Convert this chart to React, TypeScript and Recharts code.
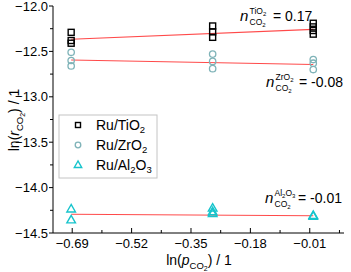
import React from 'react';
import { ComposedChart, Scatter, Line, XAxis, YAxis } from 'recharts';

// ---- data ----
const lnP = [-0.693, -0.288, 0];
const tiO2Points = [
  { x: lnP[0], y: -12.29 }, { x: lnP[0], y: -12.38 }, { x: lnP[0], y: -12.41 },
  { x: lnP[1], y: -12.22 }, { x: lnP[1], y: -12.285 }, { x: lnP[1], y: -12.345 },
  { x: lnP[2], y: -12.19 }, { x: lnP[2], y: -12.23 }, { x: lnP[2], y: -12.27 }, { x: lnP[2], y: -12.31 },
];
const zrO2Points = [
  { x: lnP[0], y: -12.51 }, { x: lnP[0], y: -12.6 }, { x: lnP[0], y: -12.66 },
  { x: lnP[1], y: -12.53 }, { x: lnP[1], y: -12.61 }, { x: lnP[1], y: -12.69 },
  { x: lnP[2], y: -12.59 }, { x: lnP[2], y: -12.63 }, { x: lnP[2], y: -12.7 },
];
const al2O3Points = [
  { x: lnP[0], y: -14.23 }, { x: lnP[0], y: -14.35 },
  { x: lnP[1], y: -14.22 }, { x: lnP[1], y: -14.26 }, { x: lnP[1], y: -14.28 },
  { x: lnP[2], y: -14.3 }, { x: lnP[2], y: -14.31 },
];
const tiO2Fit = [{ x: lnP[0], y: -12.367 }, { x: lnP[2], y: -12.257 }];
const zrO2Fit = [{ x: lnP[0], y: -12.595 }, { x: lnP[2], y: -12.645 }];
const al2O3Fit = [{ x: lnP[0], y: -14.294 }, { x: lnP[2], y: -14.31 }];

const xMajor = [-0.69, -0.52, -0.35, -0.18, -0.01];
const xMinor = [-0.605, -0.435, -0.265, -0.095, 0.075];
const xTickLabels = ['\u22120.69', '\u22120.52', '\u22120.35', '\u22120.18', '\u22120.01'];
const yMajor = [-14.5, -14, -13.5, -13, -12.5, -12];
const yMinor = [-14.25, -13.75, -13.25, -12.75, -12.25];
const yTickLabels = ['\u221214.5', '\u221214.0', '\u221213.5', '\u221213.0', '\u221212.5', '\u221212.0'];

const xDomain = [-0.745, 0.088];
const yDomain = [-14.5, -12.0];

const FONT = 'Liberation Sans, Arial, sans-serif';
const C_TI = '#000000';
const C_ZR = '#7fb3b8';
const C_AL = '#16c4cc';
const C_FIT = '#ff4a4a';

const near = (a: number, b: number) => Math.abs(a - b) < 1e-6;
const idxIn = (arr: number[], v: number) => arr.findIndex((a) => near(a, v));

const BottomTick = (p: any) => {
  const { x, y, payload } = p;
  const i = idxIn(xMajor, payload.value);
  if (i < 0) return <line x1={x} x2={x} y1={y} y2={y - 3} stroke="#000" />;
  return (
    <g>
      <line x1={x} x2={x} y1={y} y2={y - 5} stroke="#000" />
      <text x={x} y={y + 15} textAnchor="middle" fontSize={13} fontFamily={FONT} fill="#000">
        {xTickLabels[i]}
      </text>
    </g>
  );
};
const TopTick = (p: any) => {
  const { x, y, payload } = p;
  const major = idxIn(xMajor, payload.value) >= 0;
  return <line x1={x} x2={x} y1={y} y2={y + (major ? 5 : 3)} stroke="#000" />;
};
const LeftTick = (p: any) => {
  const { x, y, payload } = p;
  const i = idxIn(yMajor, payload.value);
  if (i < 0) return <line x1={x - 3} x2={x} y1={y} y2={y} stroke="#000" />;
  return (
    <g>
      <line x1={x - 4} x2={x} y1={y} y2={y} stroke="#000" />
      <text x={x - 5} y={y + 4.5} textAnchor="end" fontSize={13} fontFamily={FONT} fill="#000">
        {yTickLabels[i]}
      </text>
    </g>
  );
};
const RightTick = (p: any) => {
  const { x, y, payload } = p;
  const major = idxIn(yMajor, payload.value) >= 0;
  return <line x1={x} x2={x - (major ? 5 : 3)} y1={y} y2={y} stroke="#000" />;
};

const SquareShape = (p: any) => (
  <rect x={p.cx - 3} y={p.cy - 3} width={6} height={6} fill="none" stroke={C_TI} strokeWidth={1.4} />
);
const CircleShape = (p: any) => (
  <circle cx={p.cx} cy={p.cy} r={3.2} fill="none" stroke={C_ZR} strokeWidth={1.3} />
);
const TriShape = (p: any) => (
  <polygon
    points={`${p.cx},${p.cy - 4} ${p.cx - 4.3},${p.cy + 3.5} ${p.cx + 4.3},${p.cy + 3.5}`}
    fill="none"
    stroke={C_AL}
    strokeWidth={1.4}
  />
);

const allTicksX = [...xMajor, ...xMinor].sort((a, b) => a - b);
const allTicksY = [...yMajor, ...yMinor].sort((a, b) => a - b);

const Annot = ({ nx, base, sup, val }: { nx: number; base: number; sup: React.ReactNode; val: string }) => (
  <g fontFamily={FONT} fill="#000">
    <text x={nx} y={base} fontSize={15} fontStyle="italic">n</text>
    <text x={nx + 9.5} y={base - 7} fontSize={8.5}>{sup}</text>
    <text x={nx + 9.5} y={base + 4} fontSize={8.5}>
      CO<tspan fontSize={6} dy={2}>2</tspan>
    </text>
    <text x={nx + 33} y={base} fontSize={14}>{val}</text>
  </g>
);

export default function App() {
  return (
    <div style={{ position: 'absolute', left: 0, top: 0, width: 351, height: 272, background: '#fff' }}>
      <ComposedChart width={351} height={272} margin={{ top: 6, right: 7, left: 0, bottom: 0 }}>
        <XAxis
          xAxisId="b"
          dataKey="x"
          type="number"
          domain={xDomain}
          ticks={allTicksX}
          interval={0}
          allowDataOverflow
          height={39}
          tickSize={0}
          tickMargin={0}
          tickLine={false}
          axisLine={{ stroke: '#000' }}
          tick={<BottomTick />}
        />
        <XAxis
          xAxisId="t"
          orientation="top"
          type="number"
          domain={xDomain}
          ticks={allTicksX}
          interval={0}
          allowDataOverflow
          height={0}
          tickSize={0}
          tickMargin={0}
          tickLine={false}
          axisLine={{ stroke: '#000' }}
          tick={<TopTick />}
        />
        <YAxis
          yAxisId="l"
          type="number"
          domain={yDomain}
          ticks={allTicksY}
          interval={0}
          allowDataOverflow
          width={53}
          tickSize={0}
          tickMargin={0}
          tickLine={false}
          axisLine={{ stroke: '#000' }}
          tick={<LeftTick />}
        />
        <YAxis
          yAxisId="r"
          orientation="right"
          type="number"
          domain={yDomain}
          ticks={allTicksY}
          interval={0}
          allowDataOverflow
          width={0}
          tickSize={0}
          tickMargin={0}
          tickLine={false}
          axisLine={{ stroke: '#000' }}
          tick={<RightTick />}
        />
        <Line xAxisId="b" yAxisId="l" data={tiO2Fit} dataKey="y" stroke={C_FIT} strokeWidth={1.1} dot={false} isAnimationActive={false} />
        <Line xAxisId="b" yAxisId="l" data={zrO2Fit} dataKey="y" stroke={C_FIT} strokeWidth={1.1} dot={false} isAnimationActive={false} />
        <Line xAxisId="b" yAxisId="l" data={al2O3Fit} dataKey="y" stroke={C_FIT} strokeWidth={1.1} dot={false} isAnimationActive={false} />
        <Scatter xAxisId="b" yAxisId="l" data={tiO2Points} dataKey="y" shape={SquareShape} isAnimationActive={false} />
        <Scatter xAxisId="b" yAxisId="l" data={zrO2Points} dataKey="y" shape={CircleShape} isAnimationActive={false} />
        <Scatter xAxisId="b" yAxisId="l" data={al2O3Points} dataKey="y" shape={TriShape} isAnimationActive={false} />
      </ComposedChart>
      <svg width={351} height={272} style={{ position: 'absolute', left: 0, top: 0, pointerEvents: 'none' }}>
        {/* axis titles */}
        <text x={199} y={265} textAnchor="middle" fontSize={14} fontFamily={FONT} fill="#000">
          ln(<tspan fontStyle="italic">p</tspan>
          <tspan fontSize={9.5} dy={4}>CO</tspan>
          <tspan fontSize={7} dy={2}>2</tspan>
          <tspan dy={-6}>) / 1</tspan>
        </text>
        <text
          transform="translate(19,120) rotate(-90)"
          textAnchor="middle"
          fontSize={14}
          fontFamily={FONT}
          fill="#000"
        >
          ln(<tspan fontStyle="italic">r</tspan>
          <tspan fontSize={9.5} dy={4}>CO</tspan>
          <tspan fontSize={7} dy={2}>2</tspan>
          <tspan dy={-6}>) / 1</tspan>
        </text>
        {/* annotations */}
        <Annot nx={240} base={21} sup={<>TiO<tspan fontSize={6} dy={2}>2</tspan></>} val="= 0.17" />
        <Annot nx={266} base={87} sup={<>ZrO<tspan fontSize={6} dy={2}>2</tspan></>} val="= -0.08" />
        <Annot nx={265} base={203} sup={<>Al<tspan fontSize={6} dy={2}>2</tspan><tspan dy={-2}>O</tspan><tspan fontSize={6} dy={2}>3</tspan></>} val="= -0.01" />
        {/* legend */}
        <rect x={59} y={115} width={98} height={63} fill="#fff" stroke="#c4c4c4" strokeWidth={1} />
        <rect x={75.5} y={122.5} width={5} height={5} fill="none" stroke={C_TI} strokeWidth={1.4} />
        <circle cx={78} cy={145} r={2.8} fill="none" stroke={C_ZR} strokeWidth={1.3} />
        <polygon points="78,161 74.3,167.5 81.7,167.5" fill="none" stroke={C_AL} strokeWidth={1.4} />
        <g fontSize={14} fontFamily={FONT} fill="#000">
          <text x={96} y={130}>Ru/TiO<tspan fontSize={9.5} dy={3}>2</tspan></text>
          <text x={96} y={150}>Ru/ZrO<tspan fontSize={9.5} dy={3}>2</tspan></text>
          <text x={96} y={170}>Ru/Al<tspan fontSize={9.5} dy={3}>2</tspan><tspan dy={-3}>O</tspan><tspan fontSize={9.5} dy={3}>3</tspan></text>
        </g>
      </svg>
    </div>
  );
}
